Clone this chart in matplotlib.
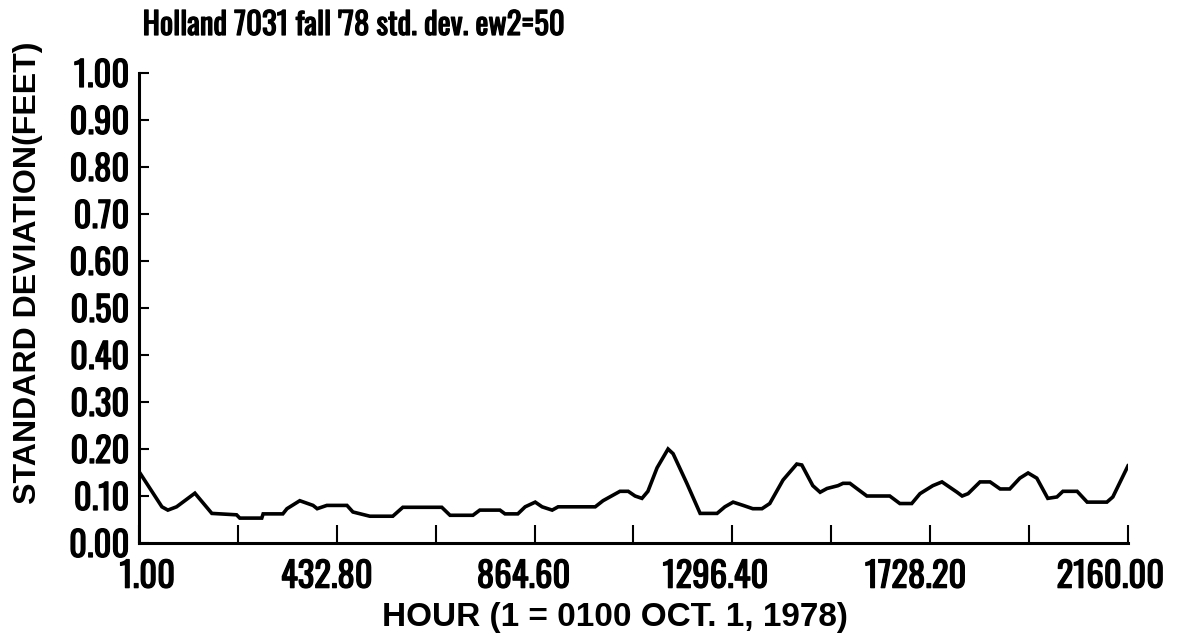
import matplotlib
matplotlib.use("Agg")
import matplotlib.pyplot as plt
from matplotlib import font_manager as fm
from matplotlib import patheffects as pe
from matplotlib.ticker import FixedLocator
from matplotlib.transforms import ScaledTranslation

# ---- data ----
hours = [1, 51, 64, 83, 123, 160, 214, 221, 269, 272, 315, 324, 352, 381, 390,
         411, 455, 468, 505, 555, 577, 662, 680, 730, 745, 789, 800, 828, 844,
         866, 881, 903, 916, 997, 1014, 1051, 1069, 1084, 1099, 1112, 1132, 1156,
         1167, 1197, 1226, 1263, 1280, 1298, 1320, 1341, 1361, 1378, 1407, 1437,
         1448, 1472, 1488, 1503, 1527, 1538, 1553, 1568, 1590, 1640, 1662, 1688,
         1706, 1734, 1754, 1787, 1798, 1811, 1837, 1859, 1881, 1902, 1924, 1942,
         1961, 1985, 2005, 2018, 2049, 2071, 2114, 2127, 2160]
std_dev = [0.152, 0.077, 0.070, 0.077, 0.106, 0.063, 0.060, 0.053, 0.053, 0.062,
           0.062, 0.073, 0.090, 0.080, 0.073, 0.080, 0.080, 0.066, 0.057, 0.057,
           0.076, 0.076, 0.059, 0.059, 0.070, 0.070, 0.062, 0.062, 0.077, 0.087,
           0.077, 0.070, 0.077, 0.077, 0.090, 0.110, 0.110, 0.100, 0.095, 0.110,
           0.160, 0.200, 0.190, 0.127, 0.063, 0.063, 0.077, 0.087, 0.080, 0.073,
           0.073, 0.084, 0.134, 0.168, 0.166, 0.122, 0.108, 0.116, 0.122, 0.127,
           0.127, 0.116, 0.100, 0.100, 0.084, 0.084, 0.105, 0.122, 0.130, 0.108,
           0.100, 0.105, 0.130, 0.130, 0.115, 0.115, 0.138, 0.149, 0.138, 0.095,
           0.098, 0.110, 0.110, 0.087, 0.087, 0.098, 0.164]

x_ticks = [1.00, 216.90, 432.80, 648.70, 864.60, 1080.50, 1296.40, 1512.30,
           1728.20, 1944.10, 2160.00]
x_labels = ["1.00", "", "432.80", "", "864.60", "", "1296.40", "",
            "1728.20", "", "2160.00"]
y_ticks = [0.0, 0.1, 0.2, 0.3, 0.4, 0.5, 0.6, 0.7, 0.8, 0.9, 1.0]
y_labels = ["0.00", "0.10", "0.20", "0.30", "0.40", "0.50", "0.60",
            "0.70", "0.80", "0.90", "1.00"]

title = "Holland 7031 fall '78 std. dev. ew2=50"
xlabel = "HOUR (1 = 0100 OCT. 1, 1978)"
ylabel = "STANDARD DEVIATION(FEET)"

installed = {f.name for f in fm.fontManager.ttflist}
narrow = [n for n in ["Oswald", "Roboto Condensed", "IBM Plex Sans Condensed",
                      "DejaVu Sans Mono"] if n in installed][:1] + ["DejaVu Sans"]
sans = ["Liberation Sans", "DejaVu Sans"]
embolden = [pe.withStroke(linewidth=0.9, foreground="black")]

fig = plt.figure(figsize=(11.79, 6.43), dpi=100)
ax = fig.add_axes([0.1179, 0.1555, 0.8388, 0.731])
ax.plot(hours, std_dev, color="black", lw=2.6, solid_joinstyle="miter")

ax.set_xlim(1, 2160)
ax.set_ylim(0, 1.0)
for s in ["top", "right"]:
    ax.spines[s].set_visible(False)
for s in ["left", "bottom"]:
    ax.spines[s].set_linewidth(2.2)

ax.xaxis.set_major_locator(FixedLocator(x_ticks))
ax.set_xticklabels(x_labels)
ax.yaxis.set_major_locator(FixedLocator(y_ticks))
ax.set_yticklabels(y_labels)
ax.tick_params(axis="x", direction="in", length=13, width=1.5, pad=12)
ax.tick_params(axis="y", direction="in", length=7, width=1.5, pad=7)

renderer = fig.canvas.get_renderer()


def fit_size(text_obj, target_px, start=20.0, vertical=False):
    text_obj.set_fontsize(start)
    bb = text_obj.get_window_extent(renderer)
    size = bb.height if vertical else bb.width
    text_obj.set_fontsize(start * target_px / size)


xl = ax.get_xticklabels()
yl = ax.get_yticklabels()
for lab in xl + yl:
    lab.set_fontfamily(narrow)
    lab.set_fontweight("bold")
    lab.set_path_effects(embolden)
# "1296.40" is ~108 px wide in the reference
probe = fig.text(0, 0, "1296.40", fontfamily=narrow, fontweight="bold")
fit_size(probe, 106)
tick_fs = probe.get_fontsize()
probe.remove()
shift = ScaledTranslation(0.36, 0, fig.dpi_scale_trans)
for lab in xl:
    lab.set_fontsize(tick_fs)
    lab.set_horizontalalignment("right")
    lab.set_transform(lab.get_transform() + shift)
for lab in yl:
    lab.set_fontsize(tick_fs)

ax.set_xlabel(xlabel, fontfamily=sans, fontweight="bold")
ax.xaxis.set_label_coords(0.481, -0.125)
ax.set_ylabel(ylabel, fontfamily=sans, fontweight="bold")
ax.yaxis.set_label_coords(-0.097, 0.575)
fit_size(ax.xaxis.label, 466, 22)
fit_size(ax.yaxis.label, 462, 22, vertical=True)

t = fig.text(0.121, 0.9456, title, fontfamily=narrow, fontweight="bold",
             ha="left", va="baseline", path_effects=embolden)
fit_size(t, 423)

fig.savefig("out.png", dpi=100, facecolor="white")
